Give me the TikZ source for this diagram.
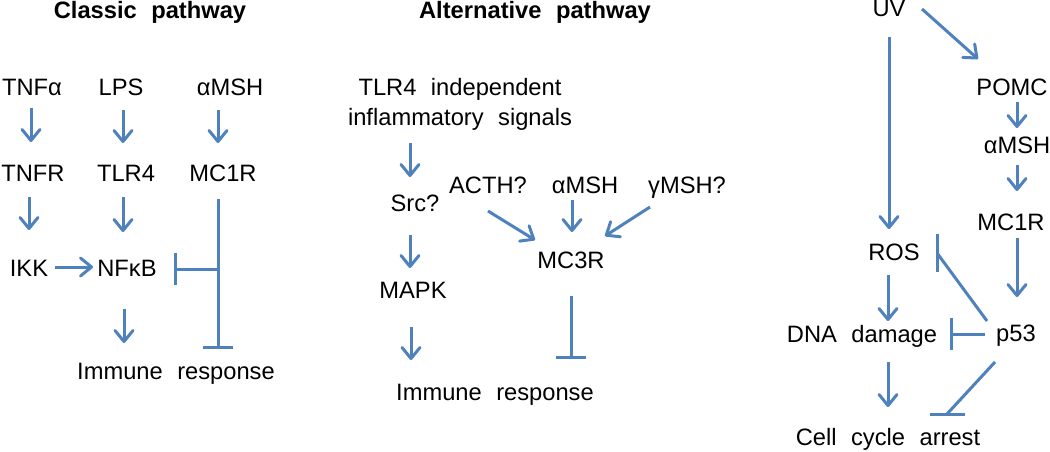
\documentclass[tikz,border=0pt]{standalone}
\usepackage{fontspec}
\setmainfont{Liberation Sans}[WordSpace=2.2]
\usetikzlibrary{arrows.meta,calc}
\definecolor{pblue}{HTML}{4F81BD}
\begin{document}
\begin{tikzpicture}[x=1pt,y=-1pt,
  lab/.style={inner sep=0pt,text height=17pt,text depth=0pt,font=\fontsize{23.7}{30}\selectfont},
  ttl/.style={lab,font=\fontsize{23.7}{30}\selectfont\bfseries},
  arr/.style={draw=pblue,line width=3pt,-{Straight Barb[length=11pt,width=18pt,line join=round,line cap=round]}},
  inh/.style={draw=pblue,line width=3pt,-{Bar[width=#1]}},
  inh/.default=31pt,
  ln/.style={draw=pblue,line width=3pt}]
\useasboundingbox (0,0) rectangle (1050,451);
% ---------- Classic pathway ----------
\node[ttl] (t1) at (150,10) {Classic pathway};
\node[lab] (tnfa) at (32,87) {TNFα};
\node[lab] (lps) at (121,87) {LPS};
\node[lab] (amsh1) at (230,87) {αMSH};
\node[lab] (tnfr) at (33,173) {TNFR};
\node[lab] (tlr4) at (126,173) {TLR4};
\node[lab] (mc1r1) at (223,173) {MC1R};
\node[lab] (ikk) at (29,268) {IKK};
\node[lab] (nfkb) at (127,268) {NFκB};
\node[lab] (imm1) at (176,371) {Immune response};
\draw[arr] ($(tnfa)+(-1,21)$) -- ($(tnfr)+(-2,-31)$);
\draw[arr] ($(lps)+(2,23)$) -- ($(tlr4)+(-3,-30)$);
\draw[arr] ($(amsh1)+(-12,23)$) -- ($(mc1r1)+(-5,-30)$);
\draw[arr] ($(tnfr)+(-4,24)$) -- ($(ikk)+(0,-38)$);
\draw[arr] ($(tlr4)+(-3,24)$) -- ($(nfkb)+(-4,-36)$);
\draw[arr] ($(ikk)+(26,-1)$) -- ($(nfkb)+(-34,-1)$);
\draw[arr] ($(nfkb)+(-3,41)$) -- ($(imm1)+(-52,-28)$);
\draw[inh=30pt] ($(mc1r1)+(-5,26)$) -- ($(imm1)+(42,-22)$);
\coordinate (j1) at ($(mc1r1)+(-5,96)$);
\draw[inh=32pt] (j1) -- ($(nfkb)+(47,1)$);
% ---------- Alternative pathway ----------
\node[ttl] (t2) at (535,10) {Alternative pathway};
\node[lab] (tlr4i) at (460,87) {TLR4 independent};
\node[lab] (infl) at (460,117) {inflammatory signals};
\node[lab] (src) at (415,203) {Src?};
\node[lab] (acth) at (488,185) {ACTH?};
\node[lab] (amsh2) at (585,185) {αMSH};
\node[lab] (gmsh) at (687,185) {γMSH?};
\node[lab] (mapk) at (413,290) {MAPK};
\node[lab] (mc3r) at (571,260) {MC3R};
\node[lab] (imm2) at (495,392) {Immune response};
\draw[arr] ($(infl)+(-50,26)$) -- ($(src)+(-5,-26)$);
\draw[arr] ($(src)+(-5,32)$) -- ($(mapk)+(-3,-22)$);
\draw[arr] ($(mapk)+(-2,37)$) -- ($(imm2)+(-84,-32)$);
\draw[arr] ($(acth)+(0,26)$) -- ($(mc3r)+(-36,-20)$);
\draw[arr] ($(amsh2)+(-13,15)$) -- ($(mc3r)+(1,-28)$);
\draw[arr] ($(gmsh)+(-37,22)$) -- ($(mc3r)+(34,-24)$);
\draw[inh=30pt] ($(mc3r)+(0,36)$) -- ($(imm2)+(76,-33)$);
% ---------- UV pathway ----------
\node[lab] (uv) at (889,8) {UV};
\node[lab] (pomc) at (1012,87) {POMC};
\node[lab] (amsh3) at (1017,145) {αMSH};
\node[lab] (mc1r3) at (1011,222) {MC1R};
\node[lab] (ros) at (894,252) {ROS};
\node[lab] (dna) at (862,334) {DNA damage};
\node[lab] (p53) at (1016,333) {p53};
\node[lab] (cca) at (888,437) {Cell cycle arrest};
\draw[arr] ($(uv)+(0,29)$) -- ($(ros)+(-5,-23)$);
\draw[arr] ($(uv)+(33,1)$) -- ($(pomc)+(-34,-28)$);
\draw[arr] ($(pomc)+(5,15)$) -- ($(amsh3)+(0,-17)$);
\draw[arr] ($(amsh3)+(0,20)$) -- ($(mc1r3)+(6,-31)$);
\draw[arr] ($(mc1r3)+(6,16)$) -- ($(p53)+(1,-36)$);
\draw[arr] ($(ros)+(-6,23)$) -- ($(dna)+(26,-13)$);
\draw[arr] ($(dna)+(26,28)$) -- ($(cca)+(0,-30)$);
\draw[inh=32pt] ($(p53)+(-31,1)$) -- ($(dna)+(88,0)$);
\draw[ln] ($(p53)+(-29,-12)$) -- ($(ros)+(43,1)$);
\draw[ln] ($(ros)+(43,-18)$) -- ($(ros)+(43,20)$);
\draw[ln] ($(p53)+(-21,29)$) -- ($(cca)+(59,-23)$);
\draw[ln] ($(cca)+(42,-23)$) -- ($(cca)+(77,-23)$);
\end{tikzpicture}
\end{document}
